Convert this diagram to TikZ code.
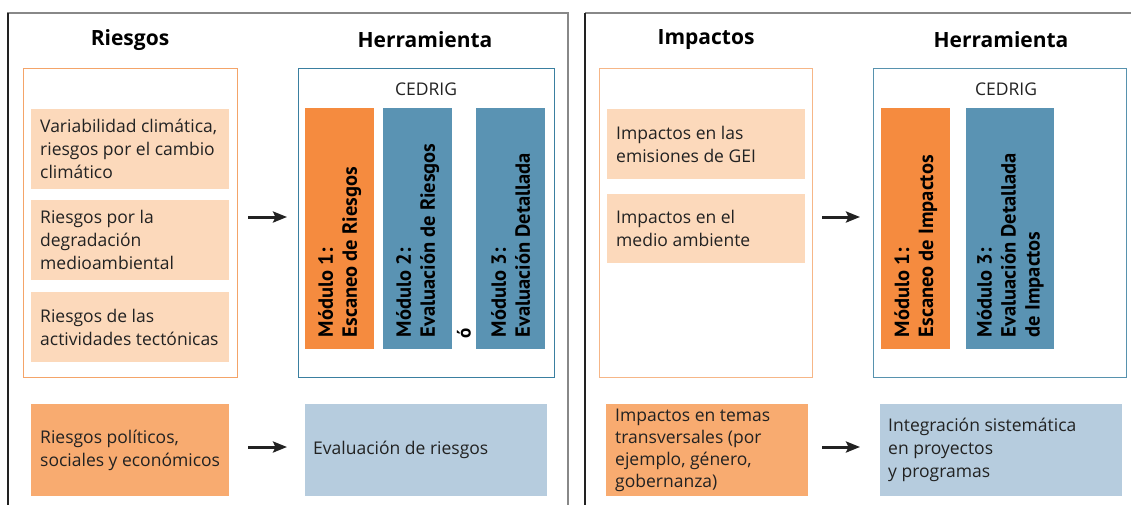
\documentclass[tikz,border=0pt]{standalone}
\usepackage{fontspec}
\setmainfont{Open Sans}
\newfontfamily\modfont{PT Sans}
\usetikzlibrary{arrows.meta}
\definecolor{modor}{HTML}{F58B3F}
\definecolor{modbl}{HTML}{5A93B3}
\definecolor{peach}{HTML}{FCD9BB}
\definecolor{botor}{HTML}{F8AB70}
\definecolor{botbl}{HTML}{B6CCDE}
\definecolor{outor}{HTML}{F4A469}
\definecolor{outbl}{HTML}{3A7FA0}
\definecolor{pangray}{HTML}{888888}
\definecolor{txt}{HTML}{222222}
\tikzset{
  title/.style={font=\fontsize{21}{25}\selectfont\bfseries, text=black, inner sep=0},
  fillbox/.style={anchor=north west, inner sep=0},
  body/.style={font=\fontsize{17.5}{23}\selectfont, text=txt, align=left, anchor=west, inner sep=0},
  modtext/.style={font=\modfont\fontsize{20.5}{24}\selectfont\bfseries, text=black, align=left, rotate=90, anchor=west, inner sep=0},
  cedrig/.style={font=\fontsize{17.5}{20}\selectfont, text=txt, inner sep=0},
  arr/.style={line width=3pt, txt, -{Stealth[length=14pt,width=11pt,inset=2.5pt]}},
}
\begin{document}
\begin{tikzpicture}[x=1pt,y=-1pt]
\useasboundingbox (0,0) rectangle (1131,504);
% panels
\draw[pangray, line width=2.2pt] (8,520) -- (8,13) -- (568,13) -- (568,520);
\draw[txt, line width=1.3pt] (8,13) -- (8,520);
\draw[pangray, line width=2.2pt] (585,13) -- (1140,13);
\draw[txt, line width=1.3pt] (585,13) -- (585,520);
% titles
\node[title] (t1) at (130,40) {Riesgos};
\node[title] (t2) at (425,40) {Herramienta};
\node[title] (t3) at (706,40) {Impactos};
\node[title] (t4) at (1001,40) {Herramienta};
% ---------- left panel ----------
\draw[outor, line width=1pt] (23,68) rectangle (237,377);
\node[fillbox, fill=peach, minimum width=198pt, minimum height=80pt] (r1) at (31,109) {};
\node[body] (r1t) at ([xshift=9pt]r1.west) {Variabilidad climática,\\riesgos por el cambio\\climático};
\node[fillbox, fill=peach, minimum width=198pt, minimum height=80pt] (r2) at (31,200) {};
\node[body] (r2t) at ([xshift=9pt]r2.west) {Riesgos por la\\degradación\\medioambiental};
\node[fillbox, fill=peach, minimum width=198pt, minimum height=70pt] (r3) at (31,292) {};
\node[body] (r3t) at ([xshift=9pt]r3.west) {Riesgos de las\\actividades tectónicas};
\draw[outbl, line width=1pt] (298,68) rectangle (554,377);
\node[cedrig] (c1) at (426,89) {CEDRIG};
\node[fillbox, fill=modor, minimum width=69pt, minimum height=241pt] (m1) at (305,108) {};
\node[fillbox, fill=modbl, minimum width=69pt, minimum height=241pt] (m2) at (383,108) {};
\node[fillbox, fill=modbl, minimum width=69pt, minimum height=241pt] (m3) at (476,108) {};
\node[modtext] (m1t) at ([yshift=12pt]m1.south) {Módulo 1:\\Escaneo de Riesgos};
\node[modtext] (m2t) at ([yshift=12pt]m2.south) {Módulo 2:\\Evaluación de Riesgos};
\node[modtext] (m3t) at ([yshift=12pt]m3.south) {Módulo 3:\\Evaluación Detallada};
\node[font=\modfont\fontsize{19}{22}\selectfont\bfseries, rotate=90, inner sep=0] (o1) at (464,333) {ó};
\coordinate (a1s) at (248,217);
\coordinate (a1e) at (287,217);
\draw[arr] (a1s) -- (a1e);
\node[fillbox, fill=botor, minimum width=198pt, minimum height=92pt] (b1) at (31,404) {};
\node[body] (b1t) at ([xshift=9pt]b1.west) {Riesgos políticos,\\sociales y económicos};
\node[fillbox, fill=botbl, minimum width=242pt, minimum height=92pt] (b2) at (305,404) {};
\node[body] (b2t) at ([xshift=8pt]b2.west) {Evaluación de riesgos};
\coordinate (a2s) at (248,447);
\coordinate (a2e) at (287,447);
\draw[arr] (a2s) -- (a2e);
% ---------- right panel ----------
\draw[outor!80, line width=1pt] (599,68) rectangle (812,377);
\node[fillbox, fill=peach, minimum width=198pt, minimum height=70pt] (i1) at (607,109) {};
\node[body] (i1t) at ([xshift=9pt]i1.west) {Impactos en las\\emisiones de GEI};
\node[fillbox, fill=peach, minimum width=198pt, minimum height=69pt] (i2) at (607,194) {};
\node[body] (i2t) at ([xshift=9pt]i2.west) {Impactos en el\\medio ambiente};
\draw[outbl!85, line width=1pt] (873,68) rectangle (1126,377);
\node[cedrig] (c2) at (1006,89) {CEDRIG};
\node[fillbox, fill=modor, minimum width=69pt, minimum height=241pt] (n1) at (881,108) {};
\node[fillbox, fill=modbl, minimum width=88pt, minimum height=241pt] (n3) at (966,108) {};
\node[modtext] (n1t) at ([yshift=12pt]n1.south) {Módulo 1:\\Escaneo de Impactos};
\node[modtext] (n3t) at ([yshift=12pt]n3.south) {Módulo 3:\\Evaluación Detallada\\de Impactos};
\coordinate (a3s) at (822,217);
\coordinate (a3e) at (860,217);
\draw[arr] (a3s) -- (a3e);
\node[fillbox, fill=botor, minimum width=202pt, minimum height=92pt] (b3) at (606,404) {};
\node[body, font=\fontsize{17.5}{22}\selectfont] (b3t) at ([xshift=9pt]b3.west) {Impactos en temas\\transversales (por\\ejemplo, género,\\gobernanza)};
\node[fillbox, fill=botbl, minimum width=242pt, minimum height=92pt] (b4) at (880,404) {};
\node[body] (b4t) at ([xshift=8pt]b4.west) {Integración sistemática\\en proyectos\\y programas};
\coordinate (a4s) at (822,447);
\coordinate (a4e) at (860,447);
\draw[arr] (a4s) -- (a4e);
\end{tikzpicture}
\end{document}
